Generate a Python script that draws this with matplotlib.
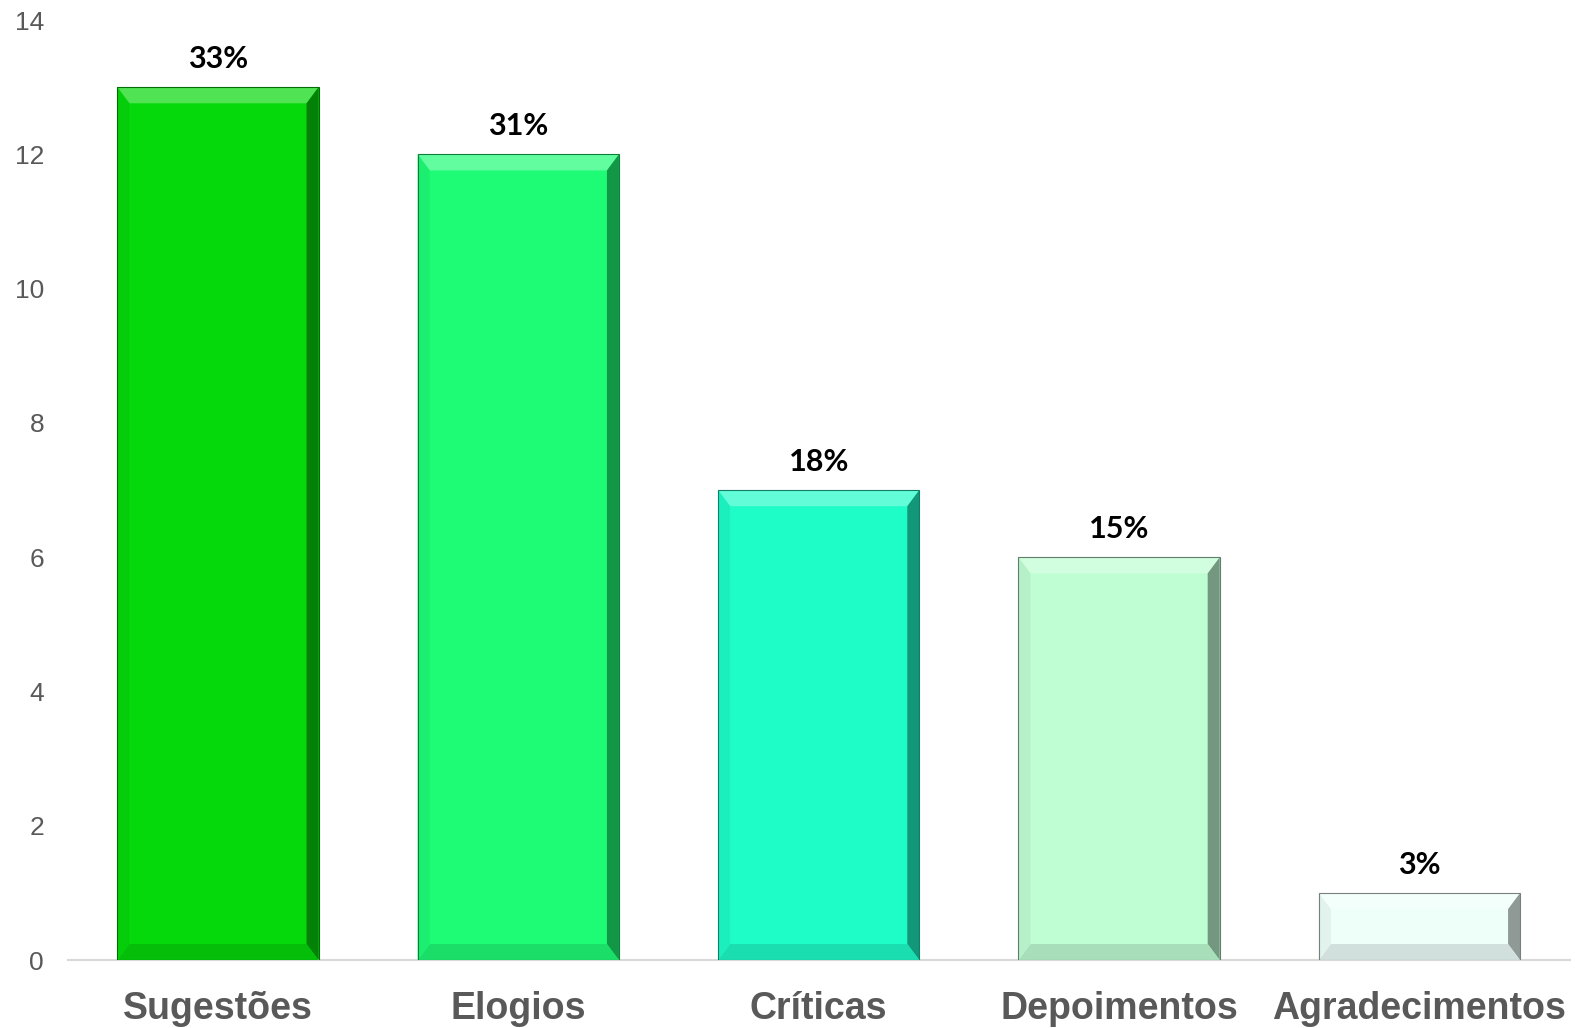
import matplotlib

matplotlib.use("Agg")
import matplotlib.pyplot as plt
from matplotlib.patches import Polygon
from matplotlib.colors import to_rgb
import numpy as np

categories = ["Sugestões", "Elogios", "Críticas", "Depoimentos", "Agradecimentos"]
counts = [13, 12, 7, 6, 1]
pct_labels = ["33%", "31%", "18%", "15%", "3%"]
bar_colors = ["#05D80B", "#1EFC76", "#1EFCC8", "#BFFDD3", "#EEFFFA"]

GREY = "#595959"


def mix(c, other, t):
    c = np.array(to_rgb(c)); o = np.array(to_rgb(other))
    return tuple(c * (1 - t) + o * t)


def bevel(ax, rect, color, dx=0.04, dy=0.24):
    x0, y0 = rect.get_x(), rect.get_y()
    w, h = rect.get_width(), rect.get_height()
    dy = min(dy, h / 3)
    x1, y1 = x0 + w, y0 + h
    faces = [
        ([(x0, y1), (x1, y1), (x1 - dx, y1 - dy), (x0 + dx, y1 - dy)], mix(color, "white", 0.3)),
        ([(x1, y1), (x1, y0), (x1 - dx, y0 + dy), (x1 - dx, y1 - dy)], mix(color, "black", 0.4)),
        ([(x0, y0), (x1, y0), (x1 - dx, y0 + dy), (x0 + dx, y0 + dy)], mix(color, "black", 0.12)),
        ([(x0, y0), (x0, y1), (x0 + dx, y1 - dy), (x0 + dx, y0 + dy)], mix(color, "black", 0.05)),
    ]
    for pts, fc in faces:
        ax.add_patch(Polygon(pts, closed=True, facecolor=fc, edgecolor="none", zorder=3))


fig = plt.figure(figsize=(15.75, 10.28), dpi=100)
ax = fig.add_axes([0.043, 0.066, 0.9536, 0.9145])

x = np.arange(len(categories))
bars = ax.bar(x, counts, width=0.67, color=bar_colors, edgecolor="none", zorder=2)
for rect, c in zip(bars, bar_colors):
    bevel(ax, rect, c)
    ax.add_patch(plt.Rectangle((rect.get_x(), rect.get_y()), rect.get_width(), rect.get_height(),
                               fill=False, edgecolor=mix(c, "black", 0.5), lw=0.8, zorder=4))

for rect, lab in zip(bars, pct_labels):
    ax.annotate(lab, (rect.get_x() + rect.get_width() / 2, rect.get_height()),
                xytext=(0, 10), textcoords="offset points", ha="center", va="bottom",
                fontsize=22, fontweight="bold", family="Lato", color="black")

ax.set_xlim(-0.5, len(categories) - 0.5)
ax.set_ylim(0, 14)
ax.set_yticks(range(0, 15, 2))
ax.set_xticks(x)
ax.set_xticklabels(categories, fontsize=27, fontweight="bold", family="Liberation Sans", color=GREY)
ax.tick_params(axis="x", length=0, pad=22)
ax.tick_params(axis="y", length=0, pad=17, labelsize=19, labelcolor=GREY)
for lab in ax.get_yticklabels():
    lab.set_family("Liberation Sans")

for s in ["top", "right", "left"]:
    ax.spines[s].set_visible(False)
ax.spines["bottom"].set_color("#D9D9D9")
ax.spines["bottom"].set_linewidth(1.5)

fig.savefig("out.png", dpi=100, facecolor="white")
